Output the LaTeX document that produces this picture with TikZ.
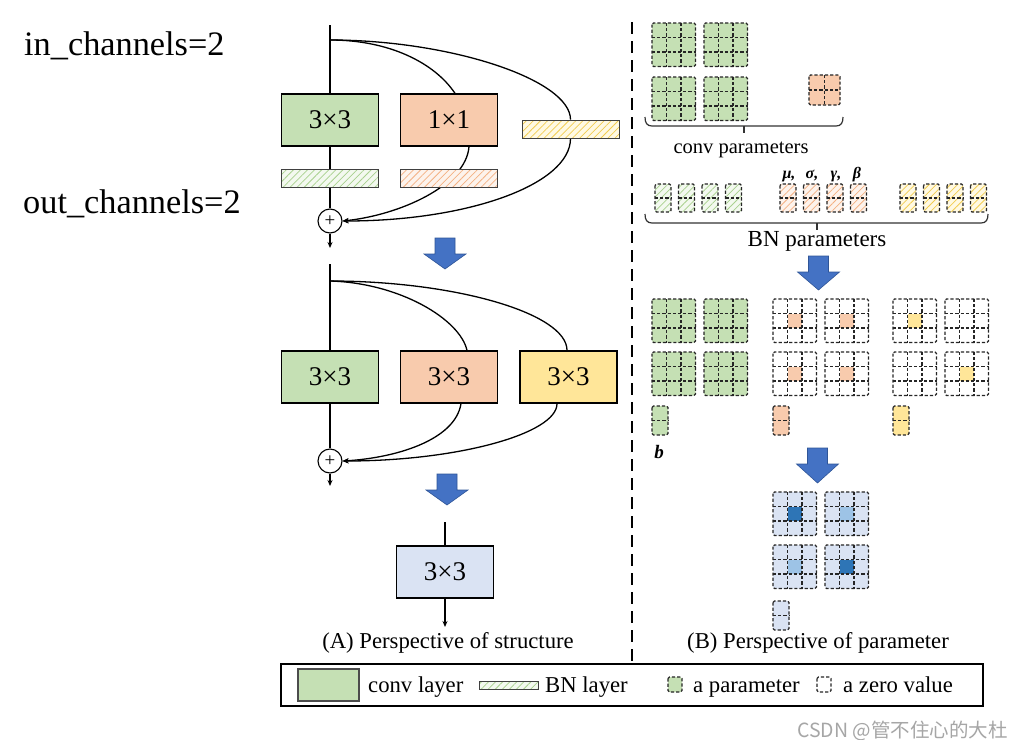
\documentclass[tikz,border=0pt]{standalone}
\usepackage{fontspec}
\setmainfont{Liberation Serif}
\newfontfamily\cjkfont{Noto Sans CJK SC}
\usetikzlibrary{arrows.meta,patterns.meta,backgrounds}
\definecolor{gfill}{HTML}{C5E0B4}
\definecolor{ofill}{HTML}{F8CBAD}
\definecolor{yfill}{HTML}{FFE699}
\definecolor{bfill}{HTML}{DAE3F3}
\definecolor{gbg}{HTML}{F3F9EF}
\definecolor{gline}{HTML}{A9D18E}
\definecolor{obg}{HTML}{FDF3EC}
\definecolor{oline}{HTML}{F4B183}
\definecolor{ybg}{HTML}{FFF9E3}
\definecolor{yline}{HTML}{F2CC50}
\definecolor{arrblue}{HTML}{4472C4}
\definecolor{arrbd}{HTML}{2F5597}
\definecolor{darkcell}{HTML}{2E75B6}
\definecolor{lightcell}{HTML}{9DC3E6}
\newcommand\setfs[1]{\fontsize{#1}{#1}\selectfont}
\newcommand\pgrid[8]{%
  \path[#7, rounded corners=1.5pt] (#1,#2) rectangle ++(#3*#5,#4*#6);
  #8
  \draw[dgrid, rounded corners=1.5pt] (#1,#2) rectangle ++(#3*#5,#4*#6);
  \ifnum#3>1 \pgfmathtruncatemacro\gridnc{#3-1}\foreach \gi in {1,...,\gridnc}{\draw[dgrid] (#1+\gi*#5,#2) -- ++(0,#4*#6);}\fi
  \ifnum#4>1 \pgfmathtruncatemacro\gridnr{#4-1}\foreach \gj in {1,...,\gridnr}{\draw[dgrid] (#1,#2+\gj*#6) -- ++(#3*#5,0);}\fi
}
\newcommand\ccell[3]{\fill[#3] (#1+14.5,#2+14.5) rectangle ++(14.5,14.5);}
\newcommand\barrow[3]{%
  \filldraw[fill=arrblue,draw=arrbd,line width=0.6pt] (#1-10,#2) -- (#1+10,#2) -- (#1+10,#2+16) -- (#1+21,#2+16) -- (#1,#3) -- (#1-21,#2+16) -- (#1-10,#2+16) -- cycle;}
\begin{document}
\begin{tikzpicture}[x=1pt,y=-1pt,
  conv/.style={draw=black, line width=1.3pt, minimum width=97pt, minimum height=52pt, inner sep=0pt, font=\setfs{27}},
  bnbar/.style={draw=black!75, line width=0.9pt, minimum width=97pt, minimum height=18pt, inner sep=0pt},
  hg/.style={preaction={fill=gbg}, pattern={Lines[angle=45,distance=5pt,line width=0.75pt]}, pattern color=gline},
  ho/.style={preaction={fill=obg}, pattern={Lines[angle=45,distance=5pt,line width=0.75pt]}, pattern color=oline},
  hy/.style={preaction={fill=ybg}, pattern={Lines[angle=45,distance=5pt,line width=0.75pt]}, pattern color=yline},
  plusnode/.style={circle, draw, line width=1.1pt, minimum size=24pt, inner sep=0pt, fill=white, font=\setfs{19}},
  conn/.style={line width=1.3pt},
  arr/.style={conn, -{Stealth[length=6pt,width=5pt]}},
  dgrid/.style={dash pattern=on 3.2pt off 2pt, line width=1.1pt, black!85},
  lbl/.style={inner sep=0pt, anchor=base},
  brc/.style={line width=1.2pt, black!80}
]
\useasboundingbox (0,0) rectangle (1024,739);
\begin{scope}[on background layer]
\fill[white] (0,0) rectangle (1024,739);
\end{scope}

% left labels
\node[lbl, anchor=base west, font=\setfs{34.3}] (inch) at (24,55) {in\_channels=2};
\node[lbl, anchor=base west, font=\setfs{34.3}] (outch) at (23,213) {out\_channels=2};

% ---------- block 1 ----------
\coordinate (t1) at (330,25);
\coordinate (s1) at (330,40);
\coordinate (e1) at (330,248);
\node[conv, fill=gfill] (c1) at (330,120) {3×3};
\node[conv, fill=ofill] (o1) at (449,120) {1×1};
\node[bnbar, hy] (yb1) at (570.5,129) {};
\node[bnbar, hg] (gb1) at (330,178) {};
\node[bnbar, ho] (ob1) at (449,178) {};
\node[plusnode] (p1) at (330,221) {+};
\begin{scope}[on background layer]
\draw[conn] (t1) -- (c1.north);
\draw[conn] (s1) .. controls +(60,0) and +(-20,-30) .. ([xshift=6pt]o1.north);
\draw[conn] (s1) .. controls +(120,0) and +(0,-40) .. (yb1.north);
\draw[conn] (c1.south) -- (gb1.north);
\draw[conn] (gb1.south) -- (p1.north);
\draw[arr] ([xshift=20pt]o1.south) .. controls +(-3,39) and +(57,-6) .. (p1.east);
\draw[arr] (yb1.south) .. controls +(0,46) and +(126,0) .. (p1.east);
\draw[arr] (p1.south) -- (e1);
\end{scope}

\barrow{445}{238}{269}

% ---------- block 2 ----------
\coordinate (t2) at (330,264);
\coordinate (s2) at (330,281);
\coordinate (e2) at (330,486);
\node[conv, fill=gfill] (c2) at (330,377) {3×3};
\node[conv, fill=ofill] (o2) at (449,377) {3×3};
\node[conv, fill=yfill] (y2) at (568.5,377) {3×3};
\node[plusnode] (p2) at (330,461) {+};
\begin{scope}[on background layer]
\draw[conn] (t2) -- (c2.north);
\draw[conn] (s2) .. controls +(70,2) and +(-7,-31) .. ([xshift=18pt]o2.north);
\draw[conn] (s2) .. controls +(125,0) and +(0,-37) .. ([xshift=-1.5pt]y2.north);
\draw[conn] (c2.south) -- (p2.north);
\draw[arr] ([xshift=12pt]o2.south) .. controls +(-6,37) and +(52,-3) .. (p2.east);
\draw[arr] ([xshift=-11.5pt]y2.south) .. controls +(0,30) and +(115,0) .. (p2.east);
\draw[arr] (p2.south) -- (e2);
\end{scope}

\barrow{447}{474}{505}

% ---------- block 3 ----------
\coordinate (t3) at (445,522);
\coordinate (e3) at (445,627);
\node[conv, fill=bfill] (f3) at (445,572) {3×3};
\draw[conn] (t3) -- (f3.north);
\draw[arr] (f3.south) -- (e3);

\node[lbl, font=\setfs{22.7}] (capA) at (448,648) {(A) Perspective of structure};

% divider
\draw[dash pattern=on 12pt off 7pt, line width=2pt] (632,22) -- (632,662);

% ---------- right panel ----------
% conv parameters
\pgrid{652}{23}{3}{3}{14.5}{14.5}{fill=gfill}{}
\pgrid{704}{23}{3}{3}{14.5}{14.5}{fill=gfill}{}
\pgrid{652}{77}{3}{3}{14.5}{14.5}{fill=gfill}{}
\pgrid{704}{77}{3}{3}{14.5}{14.5}{fill=gfill}{}
\pgrid{809}{75}{2}{2}{15.5}{15}{fill=ofill}{}
\draw[brc] (645,117) .. controls (645,123) and (647,126) .. (652,126) -- (836,126) .. controls (841,126) and (843,123) .. (843,117);
\draw[brc] (744,126) -- (744,133);
\node[lbl, font=\setfs{20.5}] (convp) at (741,153) {conv parameters};

% BN parameters
\foreach \bx in {655,678.5,702,725.5}{\pgrid{\bx}{184}{1}{2}{16}{14}{hg}{}}
\foreach \bx in {780,803.5,827,850.5}{\pgrid{\bx}{184}{1}{2}{16}{14}{ho}{}}
\foreach \bx in {900,923.5,947,970.5}{\pgrid{\bx}{184}{1}{2}{16}{14}{hy}{}}
\node[lbl, font=\setfs{16}\bfseries\itshape] (mu) at (789,178) {μ,};
\node[lbl, font=\setfs{16}\bfseries\itshape] (sg) at (812,178) {σ,};
\node[lbl, font=\setfs{16}\bfseries\itshape] (gm) at (836,178) {γ,};
\node[lbl, font=\setfs{16}\bfseries\itshape] (bt) at (857,178) {β};
\draw[brc] (645,214) .. controls (645,220) and (647,223) .. (652,223) -- (981,223) .. controls (986,223) and (988,220) .. (988,214);
\draw[brc] (817,223) -- (817,230);
\node[lbl, font=\setfs{23}] (bnp) at (817,246) {BN parameters};

\barrow{818.5}{256}{290}

% converted kernels
\pgrid{652}{299}{3}{3}{14.5}{14.5}{fill=gfill}{}
\pgrid{704}{299}{3}{3}{14.5}{14.5}{fill=gfill}{}
\pgrid{652}{352}{3}{3}{14.5}{14.5}{fill=gfill}{}
\pgrid{704}{352}{3}{3}{14.5}{14.5}{fill=gfill}{}
\pgrid{773}{299}{3}{3}{14.5}{14.5}{fill=white}{\ccell{773}{299}{ofill}}
\pgrid{825}{299}{3}{3}{14.5}{14.5}{fill=white}{\ccell{825}{299}{ofill}}
\pgrid{773}{352}{3}{3}{14.5}{14.5}{fill=white}{\ccell{773}{352}{ofill}}
\pgrid{825}{352}{3}{3}{14.5}{14.5}{fill=white}{\ccell{825}{352}{ofill}}
\pgrid{893}{299}{3}{3}{14.5}{14.5}{fill=white}{\ccell{893}{299}{yfill}}
\pgrid{945}{299}{3}{3}{14.5}{14.5}{fill=white}{}
\pgrid{893}{352}{3}{3}{14.5}{14.5}{fill=white}{}
\pgrid{945}{352}{3}{3}{14.5}{14.5}{fill=white}{\ccell{945}{352}{yfill}}
\pgrid{652}{406}{1}{2}{16}{14.5}{fill=gfill}{}
\pgrid{773}{406}{1}{2}{16}{14.5}{fill=ofill}{}
\pgrid{893}{406}{1}{2}{16}{14.5}{fill=yfill}{}
\node[lbl, font=\setfs{19}\bfseries\itshape] (bb) at (659,458) {b};

\barrow{817.5}{448}{483}

% fused kernel
\pgrid{773}{492}{3}{3}{14.5}{14.5}{fill=bfill}{\ccell{773}{492}{darkcell}}
\pgrid{825}{492}{3}{3}{14.5}{14.5}{fill=bfill}{\ccell{825}{492}{lightcell}}
\pgrid{773}{545}{3}{3}{14.5}{14.5}{fill=bfill}{\ccell{773}{545}{lightcell}}
\pgrid{825}{545}{3}{3}{14.5}{14.5}{fill=bfill}{\ccell{825}{545}{darkcell}}
\pgrid{773}{601}{1}{2}{16}{14.5}{fill=bfill}{}

\node[lbl, font=\setfs{22.7}] (capB) at (818,648) {(B) Perspective of parameter};

% ---------- legend ----------
\draw[line width=2.2pt] (281,664) rectangle (983,706);
\node[draw=black!70, line width=1.2pt, fill=gfill, minimum width=61pt, minimum height=32pt, inner sep=0pt] (lg1) at (328.5,685) {};
\node[lbl, anchor=base west, font=\setfs{22.7}] (lt1) at (368,692) {conv layer};
\node[draw=black!75, line width=0.9pt, hg, minimum width=59pt, minimum height=8pt, inner sep=0pt] (lg2) at (508.5,685) {};
\node[lbl, anchor=base west, font=\setfs{22.7}] (lt2) at (545,692) {BN layer};
\pgrid{668}{677}{1}{1}{14}{15}{fill=gfill}{}
\node[lbl, anchor=base west, font=\setfs{22.7}] (lt3) at (693,692) {a parameter};
\pgrid{817}{677}{1}{1}{14}{15}{fill=white}{}
\node[lbl, anchor=base west, font=\setfs{22.7}] (lt4) at (843,692) {a zero value};

% watermark
\node[lbl, anchor=base west, text=black!35, font=\cjkfont\setfs{19.5}] (wm) at (797,737) {CSDN @管不住心的大杜};
\end{tikzpicture}
\end{document}
